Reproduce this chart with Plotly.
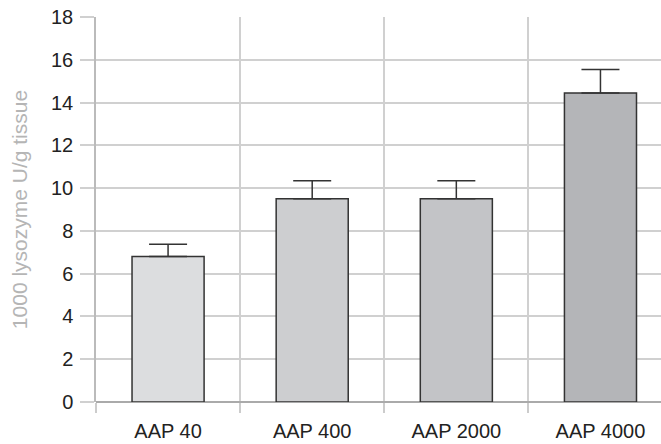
import plotly.graph_objects as go

categories = ["AAP 40", "AAP 400", "AAP 2000", "AAP 4000"]
values = [6.8, 9.5, 9.5, 14.45]
errors = [0.58, 0.85, 0.85, 1.1]
bar_colors = ["#dcdddf", "#cdced0", "#c3c4c7", "#b4b5b8"]
y_ticks = [0, 2, 4, 6, 8, 10, 12, 14, 16, 18]

fig = go.Figure(go.Bar(
    x=categories, y=values,
    width=0.5,
    marker=dict(color=bar_colors, line=dict(color="#333333", width=1.5)),
    error_y=dict(type="data", array=errors, symmetric=False, arrayminus=[0]*4,
                 color="#333333", thickness=1.5, width=19),
))

fig.update_layout(
    width=661, height=444,
    margin=dict(l=96, r=0, t=17, b=42),
    paper_bgcolor="white", plot_bgcolor="white",
    font=dict(family="Liberation Sans, Arial, sans-serif", size=20, color="#222222"),
    showlegend=False,
)
fig.update_xaxes(
    type="category", range=[-0.5, 3.42], automargin=False,
    tickson="boundaries", ticks="outside", ticklen=10, tickcolor="#cccccc", tickwidth=1.5,
    showgrid=True, gridcolor="#d0d0d0", gridwidth=1.5,
    showline=False, ticklabelstandoff=15,
    tickfont=dict(size=20, color="#222222"),
)
fig.update_yaxes(
    range=[0, 18], tickvals=y_ticks, automargin=False,
    ticks="outside", ticklen=14, tickcolor="#d0d0d0", tickwidth=1.5,
    showgrid=True, gridcolor="#d0d0d0", gridwidth=1.5,
    showline=True, linecolor="#bbbbbb", linewidth=1.5,
    zeroline=True, zerolinecolor="#aaaaaa", zerolinewidth=2,
    ticklabelstandoff=3,
    tickfont=dict(size=20, color="#222222"),
    title=dict(text="1000 lysozyme U/g tissue", font=dict(size=21, color="#b5b5b5"), standoff=18),
)

fig.write_html("out.html", config={"displayModeBar": False},
               post_script="document.body.style.margin='0';document.body.style.overflow='hidden';")
